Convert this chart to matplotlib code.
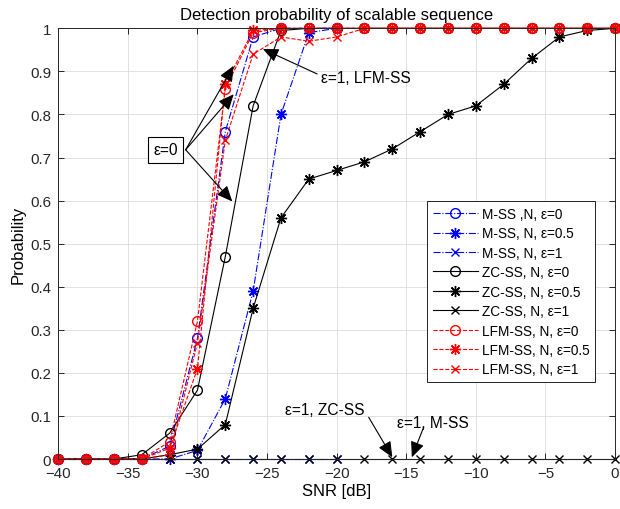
import matplotlib
matplotlib.use("Agg")
import matplotlib.pyplot as plt

plt.rcParams['font.family'] = ['Liberation Sans', 'DejaVu Sans']

# SNR grid (dB); M-SS runs only to -20 dB
snr = [-40, -38, -36, -34, -32, -30, -28, -26, -24, -22, -20,
       -18, -16, -14, -12, -10, -8, -6, -4, -2, 0]
snr_m = snr[:11]

mss_e0 = [0, 0, 0, 0, 0.03, 0.28, 0.76, 0.98, 1.0, 1.0, 1.0]
mss_e05 = [0, 0, 0, 0, 0, 0.02, 0.14, 0.39, 0.80, 0.99, 1.0]
mss_e1 = [0, 0, 0, 0, 0, 0, 0, 0, 0, 0, 0]

zc_e0 = [0, 0, 0, 0.01, 0.06, 0.16, 0.47, 0.82, 0.995, 1, 1,
         1, 1, 1, 1, 1, 1, 1, 1, 1, 1]
zc_e05 = [0, 0, 0, 0, 0.01, 0.023, 0.08, 0.35, 0.56, 0.65, 0.67,
          0.69, 0.72, 0.76, 0.80, 0.82, 0.87, 0.93, 0.98, 0.995, 1.0]
zc_e1 = [0, 0, 0, 0, 0, 0, 0, 0, 0, 0, 0,
         0, 0, 0, 0, 0, 0, 0, 0, 0, 0]

lfm_e0 = [0, 0, 0, 0, 0.04, 0.32, 0.86, 0.99, 1, 1, 1,
          1, 1, 1, 1, 1, 1, 1, 1, 1, 1]
lfm_e05 = [0, 0, 0, 0, 0.025, 0.21, 0.87, 0.995, 1, 1, 1,
           1, 1, 1, 1, 1, 1, 1, 1, 1, 1]
lfm_e1 = [0, 0, 0, 0, 0.01, 0.27, 0.74, 0.94, 0.98, 0.97, 0.98,
          1, 1, 1, 1, 1, 1, 1, 1, 1, 1]

labels = ["M-SS ,N, ε=0", "M-SS, N, ε=0.5", "M-SS, N, ε=1",
          "ZC-SS, N, ε=0", "ZC-SS, N, ε=0.5", "ZC-SS, N, ε=1",
          "LFM-SS, N, ε=0", "LFM-SS, N, ε=0.5", "LFM-SS, N, ε=1"]

xticks = [-40, -35, -30, -25, -20, -15, -10, -5, 0]
yticks = [0, 0.1, 0.2, 0.3, 0.4, 0.5, 0.6, 0.7, 0.8, 0.9, 1]
ytick_labels = ["0", "0.1", "0.2", "0.3", "0.4", "0.5", "0.6", "0.7", "0.8", "0.9", "1"]

fig = plt.figure(figsize=(6.2, 5.1), dpi=100)
ax = fig.add_axes([0.094, 0.098, 0.898, 0.8445])

star = (8, 2, 0)
common = dict(lw=0.8, clip_on=False)
ax.plot(snr_m, mss_e0, '-.', color='b', marker='o', ms=7, mfc='none', label=labels[0], **common)
ax.plot(snr_m, mss_e05, '-.', color='b', marker=star, ms=8, label=labels[1], **common)
ax.plot(snr_m, mss_e1, '-.', color='b', marker='x', ms=6, label=labels[2], **common)
ax.plot(snr, zc_e0, '-', color='k', marker='o', ms=7, mfc='none', label=labels[3], **common)
ax.plot(snr, zc_e05, '-', color='k', marker=star, ms=8, label=labels[4], **common)
ax.plot(snr, zc_e1, '-', color='k', marker='x', ms=6, label=labels[5], **common)
ax.plot(snr, lfm_e0, '--', color='r', marker='o', ms=7, mfc='none', label=labels[6], **common)
ax.plot(snr, lfm_e05, '--', color='r', marker=star, ms=8, label=labels[7], **common)
ax.plot(snr, lfm_e1, '--', color='r', marker='x', ms=6, label=labels[8], **common)

ax.set_xlim(-40, 0)
ax.set_ylim(0, 1)
ax.set_xticks(xticks)
ax.set_yticks(yticks)
ax.set_yticklabels(ytick_labels)
ax.grid(True, color='#dcdcdc', lw=0.6)
ax.set_axisbelow(True)
ax.tick_params(direction='in', top=True, right=True, length=4, width=0.7,
               labelsize=10.8, colors='#262626', pad=5)
for s in ax.spines.values():
    s.set_color('#262626')
    s.set_linewidth(0.7)

ax.set_title("Detection probability of scalable sequence", fontsize=12, pad=7)
ax.set_xlabel("SNR [dB]", fontsize=12, labelpad=2)
ax.set_ylabel("Probability", fontsize=12, labelpad=3)

leg = ax.legend(loc='upper left', bbox_to_anchor=(0.689, 0.603), bbox_transform=fig.transFigure,
                fontsize=9.8, frameon=True, fancybox=False, edgecolor='k', framealpha=1,
                borderaxespad=0, borderpad=0.4, labelspacing=0.4, handlelength=3.3,
                handletextpad=0.35)
leg.get_frame().set_linewidth(0.6)

arrow = dict(arrowstyle='-|>,head_length=0.95,head_width=0.42', color='k', lw=0.8,
             shrinkA=0, shrinkB=0, mutation_scale=10)

# eps=0 box with three arrows
ax.text(-32.3, 0.718, "ε=0", fontsize=11.2, ha='center', va='center',
        bbox=dict(boxstyle='square,pad=0.35', fc='white', ec='k', lw=0.8))
for tip in [(-27.4, 0.913), (-27.4, 0.847), (-27.5, 0.598)]:
    ax.annotate('', xy=tip, xytext=(-30.85, 0.718), arrowprops=arrow)

ax.text(-21.1, 0.886, "ε=1, LFM-SS", fontsize=11.2, ha='left', va='center')
ax.annotate('', xy=(-25.3, 0.952), xytext=(-21.4, 0.894), arrowprops=arrow)

ax.text(-23.7, 0.116, "ε=1, ZC-SS", fontsize=11.2, ha='left', va='center')
ax.annotate('', xy=(-16.0, 0.004), xytext=(-17.7, 0.097), arrowprops=arrow)

ax.text(-15.7, 0.085, "ε=1, M-SS", fontsize=11.2, ha='left', va='center')
ax.annotate('', xy=(-14.6, 0.004), xytext=(-13.75, 0.074), arrowprops=arrow)

fig.savefig("out.png", dpi=100)
